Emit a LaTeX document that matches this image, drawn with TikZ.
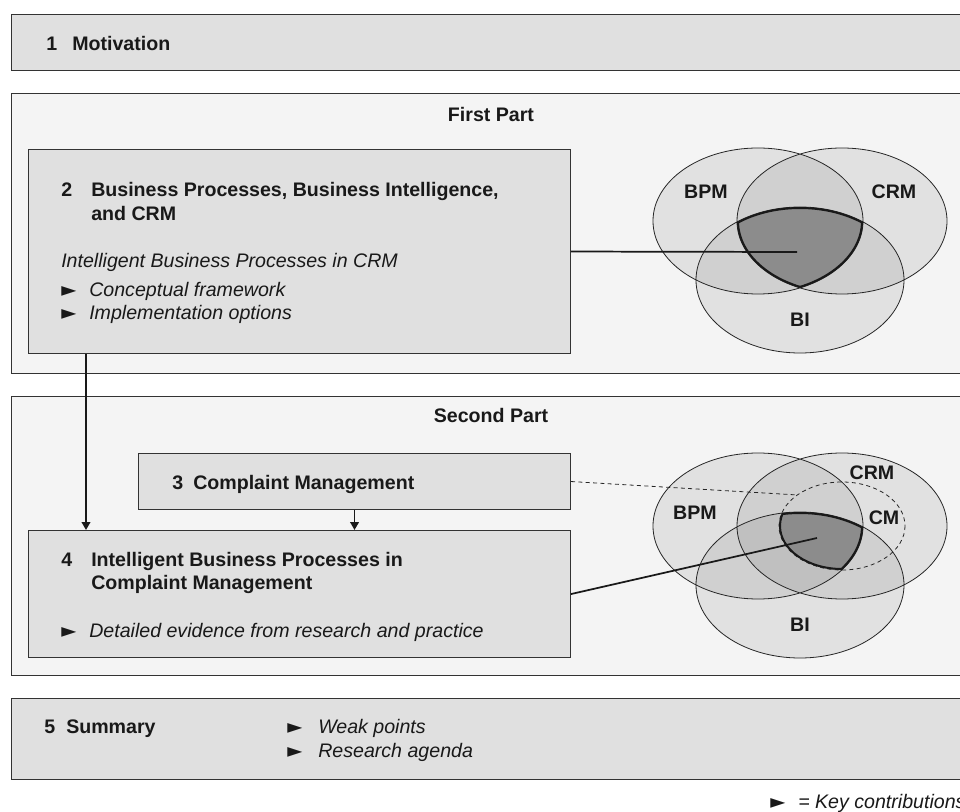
\documentclass[tikz,border=0pt]{standalone}
\usepackage{fontspec}
\setmainfont{Liberation Sans}
\newfontfamily\symfont{DejaVu Sans}
\usetikzlibrary{arrows.meta}

\definecolor{partgray}{HTML}{F4F4F4}
\definecolor{boxgray}{HTML}{E0E0E0}
\definecolor{coregray}{HTML}{8C8C8C}
\definecolor{edgegray}{HTML}{333333}

\newcommand\sz{\fontsize{14.7}{18}\selectfont}
\newcommand\kc[1][21pt]{\makebox[#1][l]{\symfont\upshape ►}}

\def\bpmset{(758,221) ellipse (105 and 73)}
\def\crmset{(842,221) ellipse (105 and 73)}
\def\biset{(800,280) ellipse (104 and 73)}
\def\cmset{(842,221) ellipse (63 and 44)}

\begin{document}
\begin{tikzpicture}[x=0.75pt, y=-0.75pt,
  partbox/.style={draw=edgegray, line width=0.8pt, fill=partgray, inner sep=0pt,
    anchor=north west, minimum width=723pt},
  chapbox/.style={draw=edgegray, line width=0.8pt, fill=boxgray, inner sep=0pt,
    anchor=north west},
  head/.style={font=\sz\bfseries, text=black!90, anchor=base west, inner sep=0pt},
  item/.style={font=\sz\itshape, text=black!90, anchor=base west, inner sep=0pt},
  setlabel/.style={font=\sz\bfseries, text=black!90, inner sep=0pt},
  vennfill/.style={black, fill opacity=0.075},
  vennline/.style={draw=black!85, line width=0.6pt},
  coreline/.style={draw=black!90, line width=3pt},
  conn/.style={draw=black!90, line width=1.3pt, -{Triangle[length=6pt,width=6.5pt]}},
  link/.style={draw=black!90, line width=1.3pt},
  dashline/.style={draw=black!85, line width=0.6pt, dash pattern=on 3pt off 2.5pt}]

  \useasboundingbox (0,0) rectangle (960,812);
  \clip (0,0) rectangle (960,812);

  \node[chapbox, minimum width=723pt, minimum height=42pt] (m1) at (11,14) {};
  \node[head] (m1n) at (46,51) {1};
  \node[head] (m1t) at (72,51) {Motivation};

  \node[partbox, minimum height=210pt] (p1) at (11,93) {};
  \node[head, anchor=base] (p1t) at (491,122) {First Part};

  \node[chapbox, minimum width=406.5pt, minimum height=153pt] (b2) at (28,149) {};
  \node[head] (b2n) at (61,197) {2};
  \node[head] (b2t) at (91,197) {Business Processes, Business Intelligence,};
  \node[head] (b2u) at (91,221) {and CRM};
  \node[item] (b2s) at (61,268) {Intelligent Business Processes in CRM};
  \node[item] (b2k1) at (61,297) {\kc Conceptual framework};
  \node[item] (b2k2) at (61,320) {\kc Implementation options};

  \node[partbox, minimum height=209.25pt] (p2) at (11,396) {};
  \node[head, anchor=base] (p2t) at (491,423) {Second Part};

  \node[chapbox, minimum width=324pt, minimum height=42pt] (b3) at (138,453) {};
  \node[head] (b3n) at (172,489) {3};
  \node[head] (b3t) at (193,489) {Complaint Management};

  \node[chapbox, minimum width=406.5pt, minimum height=95.25pt] (b4) at (28,530) {};
  \node[head] (b4n) at (61,566) {4};
  \node[head] (b4t) at (91,566) {Intelligent Business Processes in};
  \node[head] (b4u) at (91,589) {Complaint Management};
  \node[item] (b4k) at (61,637) {\kc Detailed evidence from research and practice};

  \node[chapbox, minimum width=723pt, minimum height=60.75pt] (b5) at (11,698) {};
  \node[head] (b5n) at (44,733) {5};
  \node[head] (b5t) at (66,733) {Summary};
  \node[item] (b5k1) at (287,733) {\kc[23.25pt]Weak points};
  \node[item] (b5k2) at (287,757) {\kc[23.25pt]Research agenda};

  \node[item] (key) at (770,808) {\kc = Key contributions};

  % first part: BPM, CRM, BI
  \fill[vennfill] \bpmset;
  \fill[vennfill] \crmset;
  \fill[vennfill] \biset;
  \begin{scope}
    \clip \bpmset; \clip \crmset; \clip \biset;
    \fill[coregray] \biset;
  \end{scope}
  \draw[vennline] \bpmset \crmset \biset;
  \begin{scope}
    \clip \bpmset; \clip \crmset; \clip \biset;
    \draw[coreline] \bpmset \crmset \biset;
  \end{scope}
  \node[setlabel] (bpm1) at (706,192) {BPM};
  \node[setlabel] (crm1) at (894,192) {CRM};
  \node[setlabel] (bi1) at (800,320) {BI};
  \coordinate (v1c) at (797,252);

  % second part: BPM, CRM, BI with CM
  \begin{scope}[shift={(0,305)}]
    \fill[vennfill] \bpmset;
    \fill[vennfill] \crmset;
    \fill[vennfill] \biset;
    \begin{scope}
      \clip \bpmset; \clip \cmset; \clip \biset;
      \fill[coregray] \biset;
    \end{scope}
    \draw[vennline] \bpmset \crmset \biset;
    \draw[dashline] \cmset;
    \begin{scope}
      \clip \bpmset; \clip \cmset; \clip \biset;
      \draw[coreline] \bpmset \cmset \biset;
    \end{scope}
    \node[setlabel] (bpm2) at (695,208) {BPM};
    \node[setlabel] (crm2) at (872,168) {CRM};
    \node[setlabel] (cm2) at (884,213) {CM};
    \node[setlabel] (bi2) at (800,320) {BI};
    \coordinate (v2c) at (817,233);
    \coordinate (cmedge) at (798,190);
  \end{scope}

  \draw[conn] ([xshift=43.5pt]b2.south west) -- ([xshift=43.5pt]b4.north west);
  \draw[conn] (b3.south) -- (b3.south |- b4.north);
  \draw[link] (b2.east) -- (v1c);
  \draw[link] (b4.east) -- (v2c);
  \draw[dashline] (b3.east) -- (cmedge);
\end{tikzpicture}
\end{document}
